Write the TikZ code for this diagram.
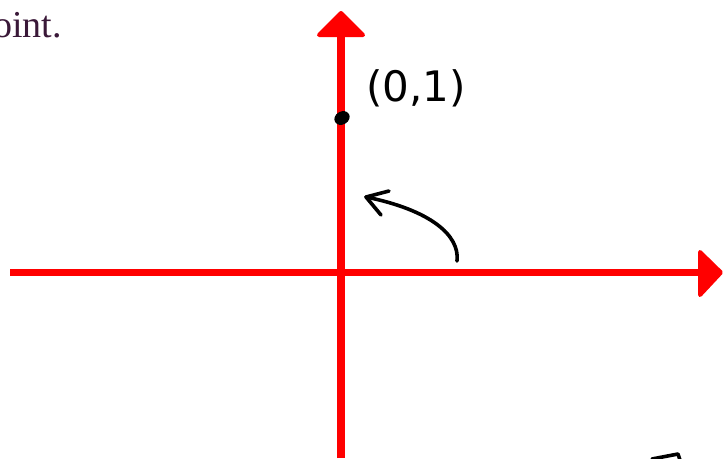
\documentclass[tikz,border=0pt]{standalone}
\usepackage{fontspec}
\setmainfont{Liberation Serif}
\newfontfamily\handfont{DejaVu Sans}
\definecolor{txtcol}{RGB}{58,24,56}
\begin{document}
\begin{tikzpicture}[x=1pt,y=-1pt,
  axis/.style={draw=red,line width=7.5pt},
  axhead/.style={draw=red,fill=red,line width=4pt,line join=round},
  ink/.style={draw=black,line width=3.6pt,line cap=round,line join=round}]
\useasboundingbox (0,0) rectangle (725,458);
\begin{scope}
\clip (0,0) rectangle (725,458);
% top-left text fragment
\node[anchor=base west,inner sep=0pt,text=txtcol,font=\fontsize{38}{42}\selectfont] (txt) at (-26,37) {point.};
% axes
\draw[axis] (10,272.5) -- (700,272.5);
\draw[axis] (341,458) -- (341,33);
\draw[axhead] (700,252) -- (721,272.5) -- (700,295) -- cycle;
\draw[axhead] (319,35) -- (341,13) -- (363,35) -- cycle;
% point
\fill[black,rotate around={30:(342,118)}] (342,118) ellipse (8 and 6.5);
\node[font=\handfont\fontsize{42}{44}\selectfont,inner sep=0pt] (lbl) at (416,88) {(0,1)};
% curved arrow
\draw[ink] (457,261) .. controls (460,235) and (430,210) .. (366,197);
\draw[ink] (389,191) -- (366,197) -- (381,215);
% bottom-right stroke
\draw[ink] (652,459) -- (678,454) -- (680,460);
\end{scope}
\end{tikzpicture}
\end{document}
